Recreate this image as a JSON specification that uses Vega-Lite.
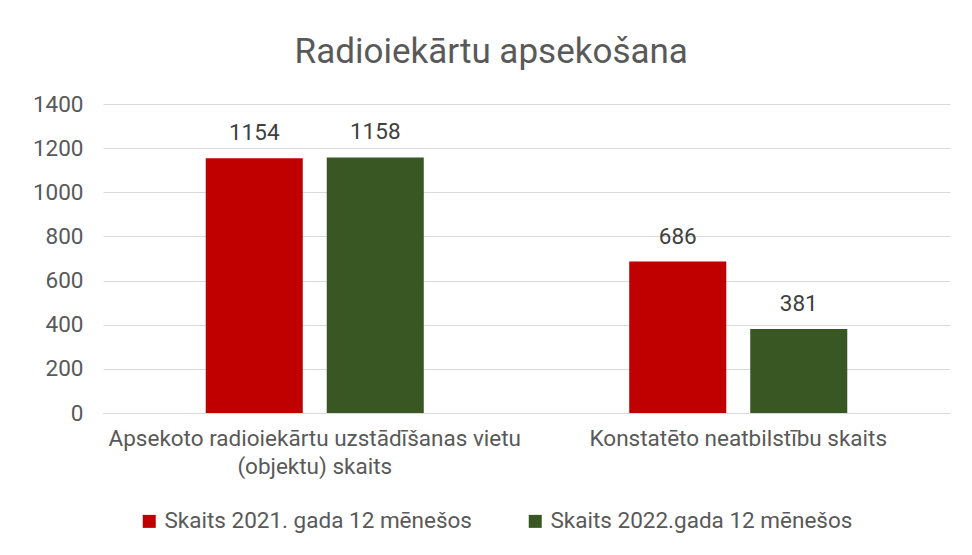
{
  "$schema": "https://vega.github.io/schema/vega-lite/v6.json",
  "width": 847,
  "height": 309,
  "autosize": {"type": "none"},
  "padding": {"left": 103, "top": 104, "right": 22, "bottom": 142},
  "background": "white",
  "title": {
    "text": "Radioiekārtu apsekošana",
    "font": "Roboto",
    "fontSize": 35,
    "fontWeight": "normal",
    "color": "#595959",
    "baseline": "alphabetic",
    "offset": 33,
    "dy": 38,
    "frame": "bounds",
    "anchor": "middle"
  },
  "data": {
    "values": [
      {"kategorija": "Apsekoto radioiekārtu uzstādīšanas vietu (objektu) skaits", "serija": "Skaits 2021. gada 12 mēnešos", "vertiba": 1154},
      {"kategorija": "Apsekoto radioiekārtu uzstādīšanas vietu (objektu) skaits", "serija": "Skaits 2022.gada 12 mēnešos", "vertiba": 1158},
      {"kategorija": "Konstatēto neatbilstību skaits", "serija": "Skaits 2021. gada 12 mēnešos", "vertiba": 686},
      {"kategorija": "Konstatēto neatbilstību skaits", "serija": "Skaits 2022.gada 12 mēnešos", "vertiba": 381}
    ]
  },
  "encoding": {
    "x": {
      "field": "kategorija",
      "type": "nominal",
      "sort": null,
      "scale": {"paddingInner": 0, "paddingOuter": 0},
      "axis": {
        "title": null,
        "labelAngle": 0,
        "labelFont": "Roboto",
        "labelFontSize": 22.5,
        "labelColor": "#595959",
        "labelPadding": 14,
        "labelLineHeight": 28,
        "labelLimit": 0,
        "ticks": false,
        "domainColor": "#d9d9d9",
        "labelExpr": "datum.value == 'Apsekoto radioiekārtu uzstādīšanas vietu (objektu) skaits' ? ['Apsekoto radioiekārtu uzstādīšanas vietu', '(objektu) skaits'] : datum.value"
      }
    },
    "xOffset": {
      "field": "serija",
      "type": "nominal",
      "sort": null,
      "scale": {"paddingInner": 0.198, "paddingOuter": 0.849}
    },
    "y": {
      "field": "vertiba",
      "type": "quantitative",
      "scale": {"domain": [0, 1400]},
      "axis": {
        "title": null,
        "values": [0, 200, 400, 600, 800, 1000, 1200, 1400],
        "format": "d",
        "labelOverlap": false,
        "labelFont": "Roboto",
        "labelFontSize": 22.5,
        "labelColor": "#595959",
        "labelPadding": 20,
        "ticks": false,
        "domain": false,
        "gridColor": "#d9d9d9",
        "gridWidth": 1
      }
    }
  },
  "layer": [
    {
      "mark": {"type": "bar"},
      "encoding": {
        "color": {
          "field": "serija",
          "type": "nominal",
          "sort": null,
          "scale": {"range": ["#c00000", "#385723"]},
          "legend": {
            "title": null,
            "orient": "none",
            "legendX": 35,
            "legendY": 406,
            "direction": "horizontal",
            "symbolType": "square",
            "symbolSize": 169,
            "symbolStrokeWidth": 0,
            "labelFont": "Roboto",
            "labelFontSize": 22.5,
            "labelColor": "#595959",
            "labelOffset": 4,
            "labelLimit": 0,
            "columnPadding": 52
          }
        }
      }
    },
    {
      "mark": {"type": "text", "dy": -25, "font": "Roboto", "fontSize": 22.5, "color": "#404040"},
      "encoding": {
        "text": {"field": "vertiba", "type": "quantitative"}
      }
    }
  ],
  "config": {
    "view": {"stroke": null}
  }
}
